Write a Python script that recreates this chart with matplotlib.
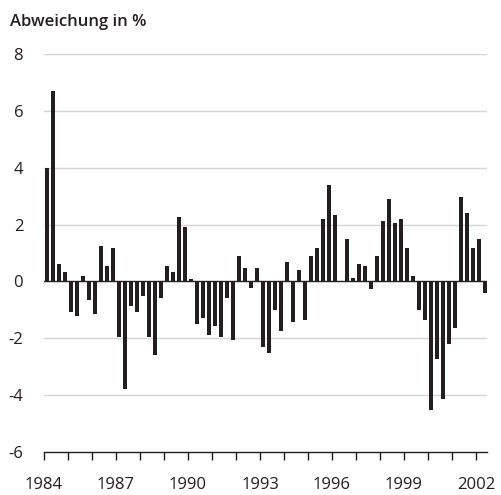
import matplotlib
matplotlib.use("Agg")
import matplotlib.pyplot as plt
import numpy as np

plt.rcParams['font.family'] = ['Open Sans', 'DejaVu Sans']

start_year = 1984
values = [
    4.0, 6.7, 0.62, 0.34,
    -1.08, -1.23, 0.2, -0.65,
    -1.15, 1.25, 0.55, 1.17,
    -1.96, -3.77, -0.88, -1.08,
    -0.53, -1.96, -2.6, -0.6,
    0.55, 0.34, 2.28, 1.93,
    0.08, -1.49, -1.29, -1.89,
    -1.56, -1.96, -0.58, -2.05,
    0.9, 0.48, -0.22, 0.48,
    -2.32, -2.53, -1.0, -1.75,
    0.69, -1.43, 0.41, -1.35,
    0.9, 1.17, 2.21, 3.38,
    2.34, 0.0, 1.5, 0.13,
    0.62, 0.55, -0.25, 0.9,
    2.14, 2.91, 2.07, 2.21,
    1.17, 0.2, -1.0, -1.35,
    -4.53, -2.72, -4.12, -2.19,
    -1.63, 2.96, 2.41, 1.17,
    1.51, -0.39,
]
year_ticks = list(range(1984, 2003))
year_labels = [str(y) if (y - 1984) % 3 == 0 else "" for y in year_ticks]
y_ticks = [-6, -4, -2, 0, 2, 4, 6, 8]
title = "Abweichung in %"

x = start_year + 0.125 + 0.25 * np.arange(len(values))

fig = plt.figure(figsize=(5.01, 4.95), dpi=100)
ax = fig.add_axes([44/501, 43/495, (487-44)/501, (452-54)/495])

for yv in y_ticks:
    if yv in (-6,):
        continue
    if yv == 0:
        continue
    ax.axhline(yv, color='#d4d4d4', lw=1.0, zorder=0)

ax.bar(x, values, width=0.13, color='#231f20', zorder=2)
ax.axhline(0, color='#231f20', lw=1.0, zorder=3)

ax.set_xlim(1984, 2002.46)
ax.set_ylim(-6, 8)
ax.set_xticks(year_ticks)
ax.set_xticklabels(year_labels)
ax.set_yticks(y_ticks)
ax.set_yticklabels([str(v) for v in y_ticks])

for s in ['top', 'right', 'left']:
    ax.spines[s].set_visible(False)
ax.spines['bottom'].set_color('#231f20')
ax.spines['bottom'].set_linewidth(1.0)

ax.tick_params(axis='x', direction='out', length=6, width=1.0, color='#231f20',
               labelsize=12, pad=12, labelcolor='#231f20')
ax.tick_params(axis='y', length=0, labelsize=12, pad=15, labelcolor='#231f20')

fig.text(10/501, 1 - 26/495, title, fontsize=12, fontweight='semibold',
         color='#231f20', ha='left', va='baseline')

fig.savefig("out.png", dpi=100)
